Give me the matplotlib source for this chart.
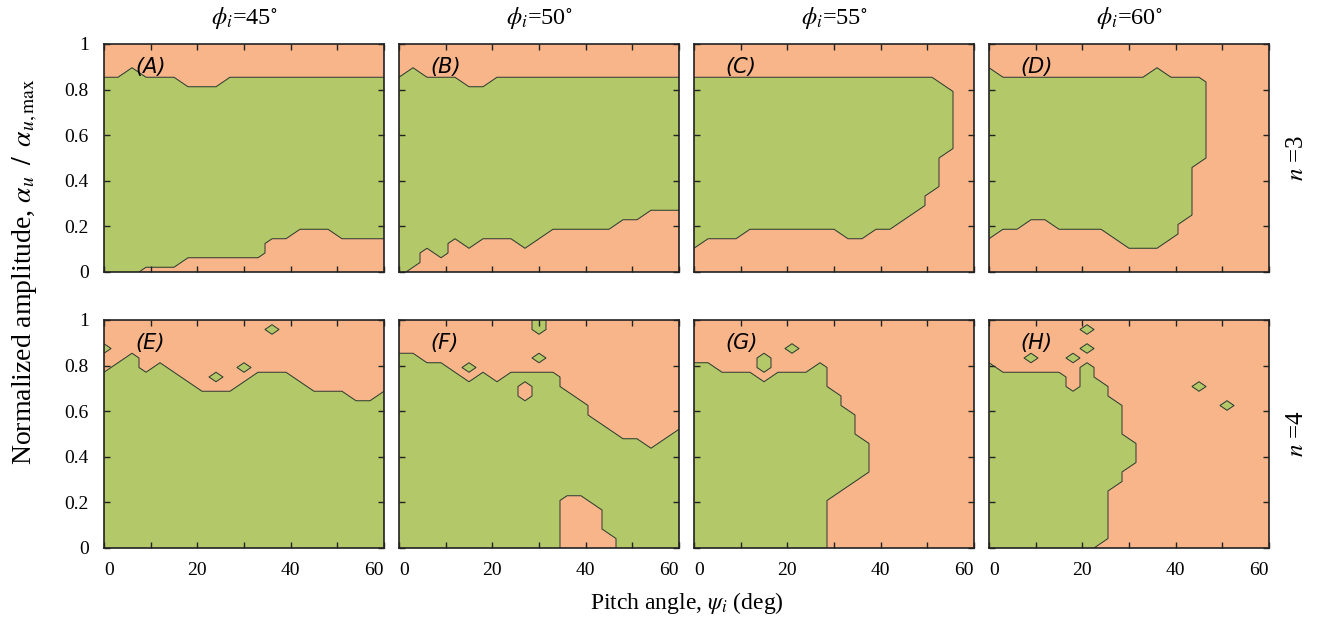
import numpy as np
import matplotlib
matplotlib.use('Agg')
import matplotlib.pyplot as plt

plt.rcParams['font.family'] = 'Liberation Serif'
plt.rcParams['mathtext.fontset'] = 'stix'

# sampling grid: pitch angle every 3 deg, amplitude in steps of 1/24
psi = np.arange(0, 61, 3)
amp = np.arange(25) / 24

phi_vals = [45, 50, 55, 60]
n_vals = [3, 4]
panel_tags = ['(A)', '(B)', '(C)', '(D)', '(E)', '(F)', '(G)', '(H)']

# stable band per psi column: lowest / highest stable amplitude index (None = no stable point)
a_lo = [0, 0, 0, 1, 1, 1, 2, 2, 2, 2, 2, 2, 4, 4, 5, 5, 5, 4, 4, 4, 4]
a_hi = [20, 20, 21, 20, 20, 20, 19, 19, 19, 20, 20, 20, 20, 20, 20, 20, 20, 20, 20, 20, 20]

b_lo = [0, 1, 3, 2, 4, 3, 4, 4, 4, 3, 4, 5, 5, 5, 5, 5, 6, 6, 7, 7, 7]
b_hi = [20, 21, 20, 20, 20, 19, 19, 20, 20, 20, 20, 20, 20, 20, 20, 20, 20, 20, 20, 20, 20]

c_lo = [3, 4, 4, 4, 5, 5, 5, 5, 5, 5, 5, 4, 4, 5, 5, 6, 7, 9, 13, None, None]
c_hi = [20, 20, 20, 20, 20, 20, 20, 20, 20, 20, 20, 20, 20, 20, 20, 20, 20, 20, 19, None, None]

d_lo = [4, 5, 5, 6, 6, 5, 5, 5, 5, 4, 3, 3, 3, 4, 6, 12, None, None, None, None, None]
d_hi = [21, 20, 20, 20, 20, 20, 20, 20, 20, 20, 20, 20, 21, 20, 20, 20, None, None, None, None, None]

e_lo = [0] * 21
e_hi = [18, 19, 20, 18, 19, 18, 17, 16, 16, 16, 17, 18, 18, 18, 17, 16, 16, 16, 15, 15, 16]
e_islands = [(0, 21), (24, 18), (30, 19), (36, 23)]

f_lo = [0, 0, 0, 0, 0, 0, 0, 0, 0, 0, 0, 0, 6, 6, 5, 2, 0, 0, 0, 0, 0]
f_hi = [20, 20, 19, 19, 18, 17, 18, 17, 18, 18, 18, 18, 16, 15, 13, 12, 11, 11, 10, 11, 12]
f_islands = [(15, 19), (30, 20), (30, 23), (30, 24)]
f_holes = [(27, 16), (27, 17)]

g_lo = [0, 0, 0, 0, 0, 0, 0, 0, 0, 0, 6, 7, 8] + [None] * 8
g_hi = [19, 19, 18, 18, 18, 17, 18, 18, 18, 19, 16, 14, 11] + [None] * 8
g_islands = [(15, 19), (15, 20), (21, 21)]

h_lo = [0, 0, 0, 0, 0, 0, 0, 0, 1, 7, 9] + [None] * 10
h_hi = [19, 18, 18, 18, 18, 18, 16, 19, 17, 15, 11] + [None] * 10
h_islands = [(9, 20), (18, 20), (21, 21), (21, 23), (45, 17), (51, 15)]

green = '#b3c868'
orange = '#f8b58a'


def stability_map(lo, hi, islands=(), holes=()):
    z = np.zeros((len(amp), len(psi)))
    for i, (k0, k1) in enumerate(zip(lo, hi)):
        if k1 is not None:
            z[k0:k1 + 1, i] = 1
    col = {int(p): i for i, p in enumerate(psi)}
    for p, k in islands:
        z[k, col[p]] = 1
    for p, k in holes:
        z[k, col[p]] = 0
    return z


maps = [
    stability_map(a_lo, a_hi),
    stability_map(b_lo, b_hi),
    stability_map(c_lo, c_hi),
    stability_map(d_lo, d_hi),
    stability_map(e_lo, e_hi, e_islands),
    stability_map(f_lo, f_hi, f_islands, f_holes),
    stability_map(g_lo, g_hi, g_islands),
    stability_map(h_lo, h_hi, h_islands),
]

W, H = 1325, 626
fig = plt.figure(figsize=(W / 100, H / 100), dpi=100)

lefts = [104, 399, 694, 989]
tops = [44, 320]
pw, ph = 280, 228

for idx, z in enumerate(maps):
    r, c = divmod(idx, 4)
    ax = fig.add_axes([lefts[c] / W, 1 - (tops[r] + ph) / H, pw / W, ph / H])
    ax.contourf(psi, amp, z, levels=[-0.5, 0.5, 1.5], colors=[orange, green])
    ax.contour(psi, amp, z, levels=[0.5], colors='#333333', linewidths=0.7)
    ax.set_xlim(0, 60)
    ax.set_ylim(0, 1)
    for s in ax.spines.values():
        s.set_linewidth(1.2)
        s.set_color('#222222')
    ax.tick_params(direction='in', length=4, width=1, top=True, right=True,
                   labelsize=14, color='#222222')
    ax.tick_params(axis='x', pad=10)
    ax.tick_params(axis='y', pad=11)
    ax.set_xticks(np.arange(0, 61, 10))
    ax.set_yticks(np.arange(0, 1.01, 0.2))
    if r == 1:
        ax.set_xticklabels(['0', '', '20', '', '40', '', '60'])
        tl = ax.get_xticklabels()
        tl[0].set_horizontalalignment('left')
        tl[-1].set_horizontalalignment('right')
    else:
        ax.set_xticklabels([])
    if c == 0:
        ax.set_yticklabels(['0', '0.2', '0.4', '0.6', '0.8', '1'])
    else:
        ax.set_yticklabels([])
    ax.text(6.8, 0.9, panel_tags[idx], fontsize=15, style='italic',
            family='DejaVu Sans', ha='left', va='center')

for c, phi in enumerate(phi_vals):
    fig.text((lefts[c] + pw / 2) / W, 1 - 24 / H, r'$\phi_i$=%d$^{\circ}$' % phi,
             fontsize=17.5, ha='center', va='baseline')

for r, n in enumerate(n_vals):
    fig.text(1297 / W, 1 - (tops[r] + ph / 2) / H, r'$n$ =%d' % n,
             fontsize=18, rotation=90, ha='center', va='center')

fig.text(25 / W, 1 - 272 / H,
         r'Normalized amplitude, $\alpha_u\;\;\left/\;\;\alpha_{u,\mathrm{max}}\right.$',
         fontsize=20, rotation=90, ha='center', va='center')
fig.text(687 / W, 1 - 603 / H, r'Pitch angle, $\psi_i$ (deg)',
         fontsize=17, ha='center', va='center')

fig.savefig('out.png', dpi=100)
